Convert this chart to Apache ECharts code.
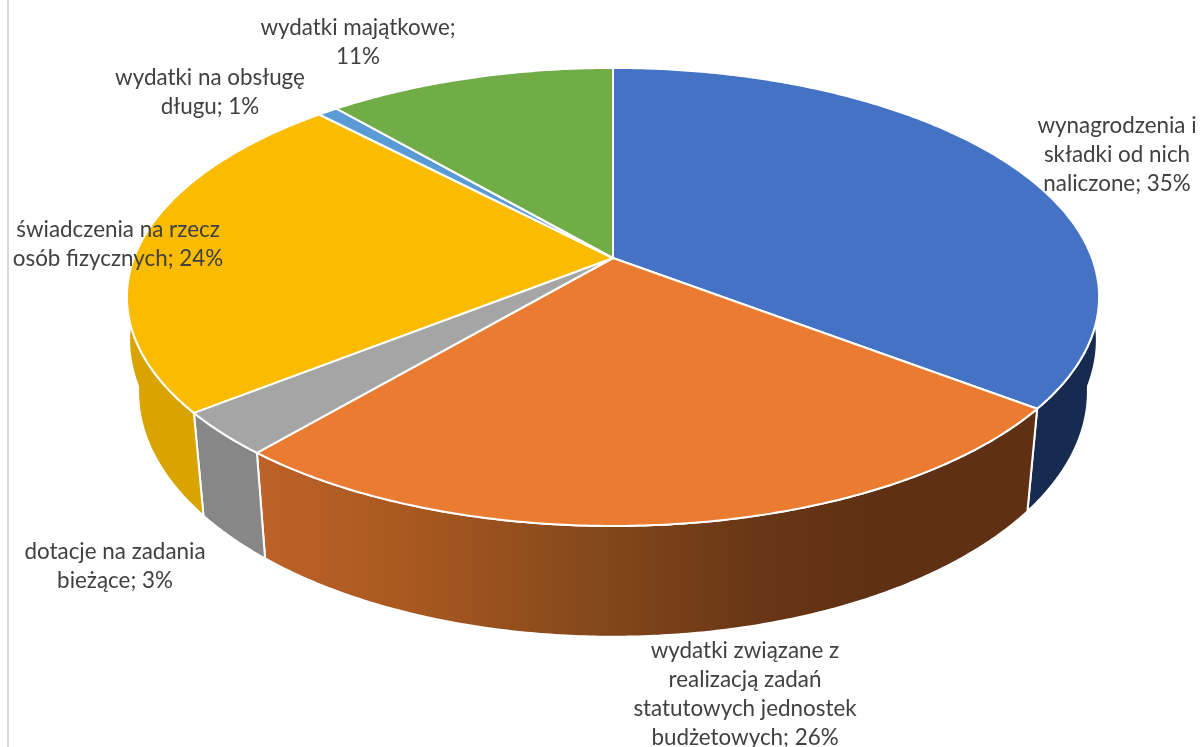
<!DOCTYPE html>
<html>
<head>
<meta charset="utf-8">
<style>
  html, body { margin: 0; padding: 0; background: #fff; }
  #chart { width: 1200px; height: 747px; }
</style>
<script src="https://cdn.jsdelivr.net/npm/echarts@6/dist/echarts.min.js"></script>
</head>
<body>
<div id="chart"></div>
<script>
const categories = [
  'wynagrodzenia i\nskładki od nich\nnaliczone',
  'wydatki związane z\nrealizacją zadań\nstatutowych jednostek\nbudżetowych',
  'dotacje na zadania\nbieżące',
  'świadczenia na rzecz\nosób fizycznych',
  'wydatki na obsługę\ndługu',
  'wydatki majątkowe'
]
const shares = [35.4, 25.8, 3.1, 23.6, 0.8, 11.3]
const topColors = ['#4472c4', '#ea7b30', '#a5a5a5', '#fbbc00', '#5b9bd5', '#70ad47']
const wallColors = ['#172b50', null, '#878787', '#d9a300', '#345f8c', '#44692a']

// 饼面的透视参数,flare 让底边在两侧靠后的部分向外展开
const upperDisc = { cx: 613, cy: 258, a: 479, b: 222.4, k: 0.17, flare: 0 }
const lowerDisc = { cx: 613, cy: 350, a: 468, b: 238, k: 0.17, flare: 0.22 }

// 标签位置(中心点)
const labelCenters = [[1117, 155], [745, 694], [115, 566], [118, 244], [210, 92], [358, 42]]
const labelBreakAfterName = [false, false, false, false, false, true]

const total = shares.reduce((s, v) => s + v, 0)
const startAngles = shares.map((v, i) => shares.slice(0, i).reduce((s, x) => s + x, 0) / total * 360)

const project = (disc, deg) => {
  const t = deg * Math.PI / 180
  const c = Math.cos(t)
  const w = 1 + disc.k * c
  const a = disc.a * (1 + disc.flare * Math.max(0, c + 0.15))
  return [disc.cx + a * Math.sin(t) / w, disc.cy - disc.b * c / w]
}

const arcPoints = (disc, from, to) => {
  const n = Math.max(2, Math.ceil(Math.abs(to - from) * 2))
  const pts = []
  for (let i = 0; i <= n; i++) pts.push(project(disc, from + (to - from) * i / n))
  return pts
}

// 橙色侧面的横向渐变
const orangeWall = new echarts.graphic.LinearGradient(258, 0, 1030, 0, [
  { offset: 0, color: '#bd6228' },
  { offset: 0.2, color: '#a85820' },
  { offset: 0.45, color: '#82471b' },
  { offset: 0.65, color: '#683615' },
  { offset: 0.8, color: '#5f3013' },
  { offset: 1, color: '#5f3013' }
], true)

const renderWall = (params, api) => {
  const i = api.value(0)
  const from = startAngles[i]
  const to = from + shares[i] / total * 360
  const upper = arcPoints(upperDisc, from, to)
  const lower = arcPoints(lowerDisc, from, to).reverse()
  return {
    type: 'polygon',
    shape: { points: upper.concat(lower) },
    style: { fill: wallColors[i] || orangeWall, stroke: '#fff', lineWidth: 2, lineJoin: 'round' }
  }
}

const renderTop = (params, api) => {
  const i = api.value(0)
  const from = startAngles[i]
  const to = from + shares[i] / total * 360
  const rim = arcPoints(upperDisc, from, to)
  return {
    type: 'polygon',
    shape: { points: [[upperDisc.cx, upperDisc.cy]].concat(rim) },
    style: { fill: topColors[i], stroke: '#fff', lineWidth: 2, lineJoin: 'round' }
  }
}

const renderLabel = (params, api) => {
  const i = api.value(0)
  const sep = labelBreakAfterName[i] ? ';\n' : '; '
  return {
    type: 'text',
    x: labelCenters[i][0],
    y: labelCenters[i][1],
    style: {
      text: categories[i] + sep + Math.round(shares[i]) + '%',
      fill: '#404040',
      font: '22.4px Lato',
      lineHeight: 29,
      align: 'center',
      verticalAlign: 'middle'
    }
  }
}

const seriesData = shares.map((v, i) => [i, v])
const chart = echarts.init(document.getElementById('chart'))
chart.setOption({
  animation: false,
  backgroundColor: '#fff',
  graphic: [{
    type: 'rect',
    shape: { x: 7, y: 0, width: 2, height: 747 },
    style: { fill: '#d9d9d9' }
  }],
  series: [
    { type: 'custom', coordinateSystem: 'none', renderItem: renderWall, data: seriesData, z: 1, silent: true },
    { type: 'custom', coordinateSystem: 'none', renderItem: renderTop, data: seriesData, z: 2, silent: true },
    { type: 'custom', coordinateSystem: 'none', renderItem: renderLabel, data: seriesData, z: 3, silent: true }
  ]
})
</script>
</body>
</html>
